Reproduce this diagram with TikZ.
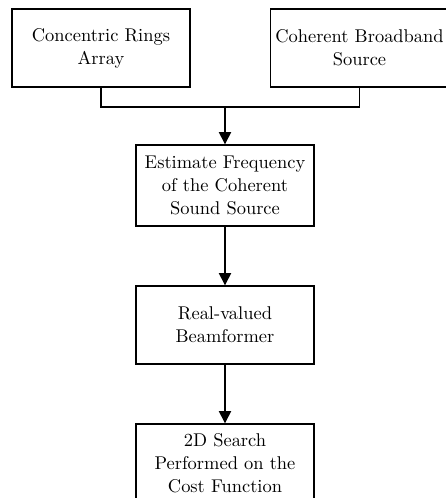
\documentclass[tikz,border=0pt]{standalone}
\usepackage{tikz}
\usetikzlibrary{positioning, arrows.meta, calc}

\tikzset{
    stagebox/.style={draw=black, line width=0.8pt, fill=white, align=center,
        minimum width=3.56cm, minimum height=1.56cm, inner sep=2pt,
        font=\fontsize{10.5}{13.2}\selectfont},
    flowarrow/.style={draw=black, line width=0.8pt, -{Triangle[length=7pt,width=7pt]}},
    joinline/.style={draw=black, line width=0.8pt}
}

\begin{document}
\begin{tikzpicture}[x=0.02cm, y=-0.02cm]
                \useasboundingbox (0,0) rectangle (446,498);
                % Inputs
                \node[stagebox] (rings) at (101,48) {Concentric Rings\\Array};
                \node[stagebox] (source) at (359.5,48) {Coherent Broadband\\Source};
                
                % Processing chain
                \node[stagebox, minimum height=1.62cm] (freq) at (225,185.5) {Estimate Frequency\\of the Coherent\\Sound Source};
                \node[stagebox] (beam) at (225,325) {Real-valued\\Beamformer};
                \node[stagebox] (search) at (225,463) {2D Search\\Performed on the\\Cost Function};
                
                % Connectors
                \coordinate (merge) at (225,107);
                \draw[joinline] (rings.south) |- (merge) -| (source.south);
                \draw[flowarrow] (merge) -- (freq.north);
                \draw[flowarrow] (freq.south) -- (beam.north);
                \draw[flowarrow] (beam.south) -- (search.north);
            \end{tikzpicture}
\end{document}
